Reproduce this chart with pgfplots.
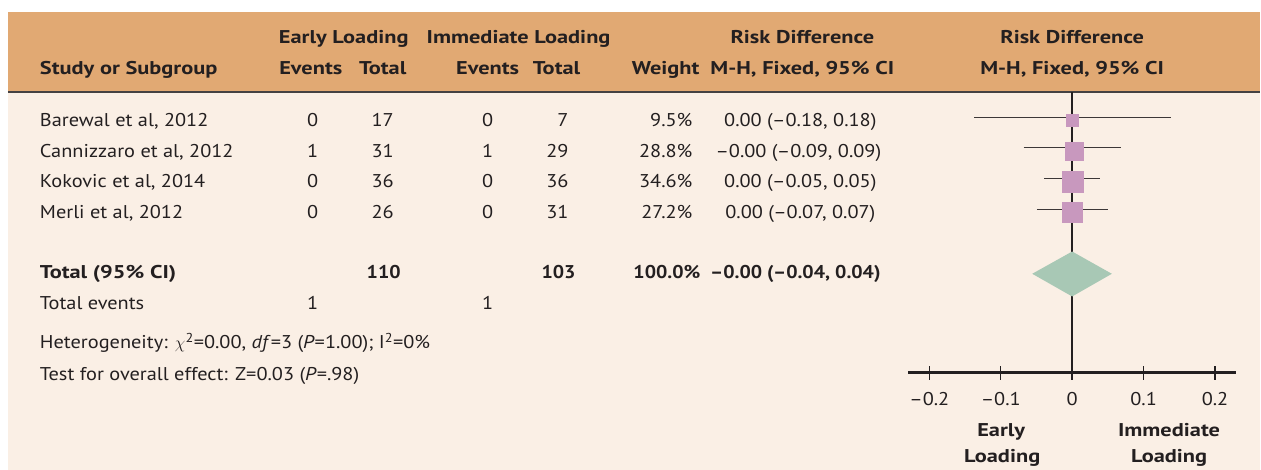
\documentclass[border=0pt]{standalone}
\usepackage{pgfplots}
\pgfplotsset{compat=1.18}
\usepackage{fontspec}
\setmainfont{PT Sans}[FakeStretch=1.10,BoldFeatures={FakeStretch=1.21}]
\newfontfamily\boldnum{PT Sans}[FakeStretch=1.05,BoldFeatures={FakeStretch=1.08}]
\definecolor{hdr}{RGB}{225,169,115}
\definecolor{bg}{RGB}{250,239,229}
\definecolor{ink}{RGB}{35,31,32}
\definecolor{sq}{RGB}{200,152,190}
\definecolor{dia}{RGB}{168,200,181}
\definecolor{ci}{RGB}{60,55,55}
\newcommand\fs{\fontsize{18.5bp}{22bp}\selectfont}
\newcommand\TL[3]{\node[anchor=base west] at (#1,#2) {#3};}
\newcommand\TC[3]{\node[anchor=base] at (#1,#2) {#3};}
\newcommand\TR[3]{\node[anchor=base east] at (#1,#2) {#3};}
\begin{document}
\begin{tikzpicture}[x=1bp,y=-1bp,every node/.style={inner sep=0pt,outer sep=0pt,text=ink,font=\fs}]
\fill[white] (0,0) rectangle (1261,470);
\fill[bg] (8,12) rectangle (1261,470);
\fill[hdr] (8,12) rectangle (1261,92);
\draw[ink!85,line width=2bp] (8,92.5) -- (1261,92.5);
% header
\TC{344}{44}{\bfseries Early Loading}
\TC{519}{44}{\bfseries Immediate Loading}
\TC{803}{44}{\bfseries Risk Difference}
\TC{1073}{44}{\bfseries Risk Difference}
\TL{40}{75}{\bfseries Study or Subgroup}
\TC{311}{75}{\bfseries Events}
\TC{383}{75}{\bfseries Total}
\TC{488}{75}{\bfseries Events}
\TC{557}{75}{\bfseries Total}
\TR{700}{75}{\bfseries Weight}
\TC{803}{75}{\bfseries M-H, Fixed, 95\% CI}
\TC{1073}{75}{\bfseries M-H, Fixed, 95\% CI}
% rows
\TL{40}{127}{Barewal et al, 2012}
\TC{313}{127}{0}\TC{383}{127}{17}\TC{488}{127}{0}\TR{569}{127}{7}
\TR{693}{127}{9.5\%}\TC{801}{127}{0.00 (–0.18, 0.18)}
\TL{40}{158}{Cannizzaro et al, 2012}
\TC{313}{158}{1}\TC{383}{158}{31}\TC{488}{158}{1}\TR{569}{158}{29}
\TR{693}{158}{28.8\%}\TC{799}{158}{–0.00 (–0.09, 0.09)}
\TL{40}{188}{Kokovic et al, 2014}
\TC{313}{188}{0}\TC{383}{188}{36}\TC{488}{188}{0}\TR{569}{188}{36}
\TR{693}{188}{34.6\%}\TC{801}{188}{0.00 (–0.05, 0.05)}
\TL{40}{219}{Merli et al, 2012}
\TC{313}{219}{0}\TC{383}{219}{26}\TC{488}{219}{0}\TR{569}{219}{31}
\TR{693}{219}{27.2\%}\TC{801}{219}{0.00 (–0.07, 0.07)}
\TL{40}{279}{\bfseries Total (95\% CI)}
\TC{384}{279}{\boldnum\bfseries 110}\TC{559}{279}{\boldnum\bfseries 103}
\TR{701}{279}{\boldnum\bfseries 100.0\%}\TC{796}{279}{\boldnum\bfseries –0.00 (–0.04, 0.04)}
\TL{40}{310}{Total events}
\TC{313}{310}{1}\TC{488}{310}{1}
\TL{40}{349}{Heterogeneity: $\chi$\textsuperscript{2}=0.00, \textit{df}=3 (\textit{P}=1.00); I\textsuperscript{2}=0\%}
\TL{40}{381}{Test for overall effect: Z=0.03 (\textit{P}=.98)}
\TC{1002}{437}{\bfseries Early}
\TC{1003}{463}{\bfseries Loading}
\TC{1170}{437}{\bfseries Immediate}
\TC{1170}{463}{\bfseries Loading}
\begin{axis}[at={(909bp,-373bp)},anchor=south west,scale only axis,
  width=328bp,height=280bp,xmin=-0.2294,xmax=0.2294,ymin=97,ymax=377,
  axis x line=bottom,axis y line=none,
  axis line style={-,ink,line width=2.5bp},
  xtick={-0.2,-0.1,0,0.1,0.2},xticklabels={–0.2,–0.1,0,0.1,0.2},
  major tick length=14bp,tick align=center,
  tick style={ink,line width=1.5bp},
  xticklabel style={font=\fs,text=ink,anchor=base,yshift=-26bp},
  clip=false]
\addplot[ink,line width=2.5bp] coordinates {(0,97) (0,377.5)};
\addplot[ci,line width=1.5bp] coordinates {(-0.137,352.3) (0.138,352.3)};
\addplot[ci,line width=1.5bp] coordinates {(-0.068,322.3) (0.068,322.3)};
\addplot[ci,line width=1.5bp] coordinates {(-0.039,291.3) (0.039,291.3)};
\addplot[ci,line width=1.5bp] coordinates {(-0.0495,260.3) (0.0495,260.3)};
\addplot[only marks,mark=square*,mark size=6bp,color=sq,mark options={fill=sq,draw=sq,line width=0pt}] coordinates {(0,349)};
\addplot[only marks,mark=square*,mark size=9bp,color=sq,mark options={fill=sq,draw=sq,line width=0pt}] coordinates {(0.003,318)};
\addplot[only marks,mark=square*,mark size=10.5bp,color=sq,mark options={fill=sq,draw=sq,line width=0pt}] coordinates {(0.001,287.5)};
\addplot[only marks,mark=square*,mark size=10bp,color=sq,mark options={fill=sq,draw=sq,line width=0pt}] coordinates {(0,257)};
\addplot[fill=dia,draw=none] coordinates {(-0.0559,196) (0,218.3) (0.0555,196) (0,173.3)} --cycle;
\end{axis}
\end{tikzpicture}
\end{document}
